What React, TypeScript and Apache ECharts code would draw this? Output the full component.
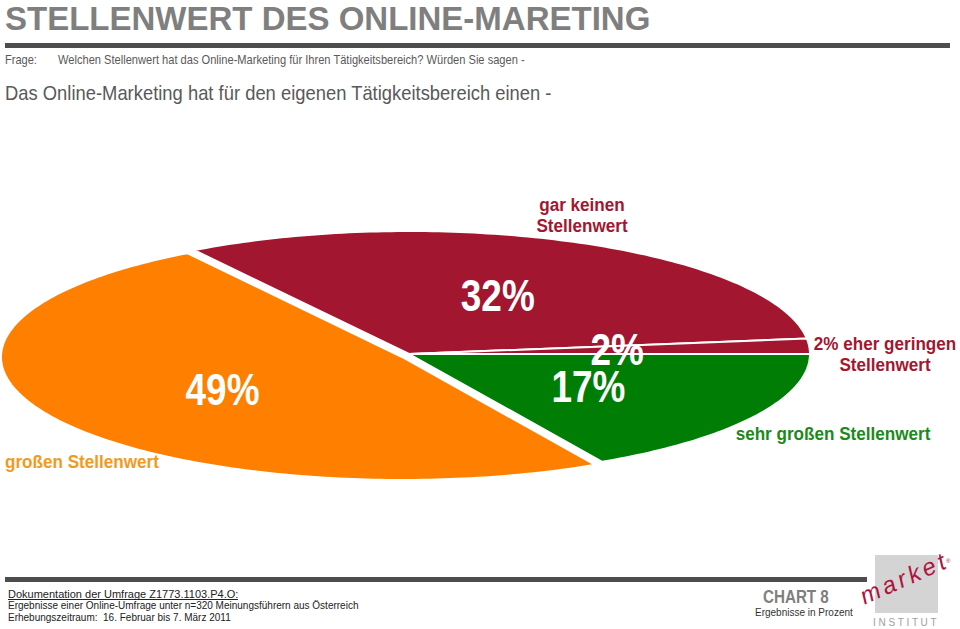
import React, { useEffect, useRef } from "react";
import * as echarts from "echarts";

// ---- data ----
const categories = ["sehr großen Stellenwert", "großen Stellenwert", "gar keinen Stellenwert", "eher geringen Stellenwert"];
const values = [17, 49, 32, 2];
const outsideLabels = ["sehr großen Stellenwert", "großen Stellenwert", "gar keinen\nStellenwert", "2% eher geringen\nStellenwert"];
const sliceColors = ["#007D05", "#FF8000", "#A3162F", "#A3162F"];
const labelColors = ["#1B8A1B", "#F39A1E", "#A3162F", "#A3162F"];
const exploded = [false, true, false, false];

// ---- layout ----
const CX = 409;
const CY = 354;
const RX = 401;
const RY = 123;
const EXPLODE = { dx: -7, dy: 3 };
const LABEL_FRACTION = 0.52;
const outsidePos: { x: number; y: number; align: string }[] = [
  { x: 833, y: 434, align: "center" },
  { x: 5, y: 462, align: "left" },
  { x: 582, y: 215, align: "center" },
  { x: 885, y: 354, align: "center" },
];

const SANS = "'Liberation Sans', Arial, sans-serif";

const total = values.reduce((a, b) => a + b, 0);
const starts: number[] = [];
{
  let acc = 0;
  values.forEach((v) => {
    starts.push((acc / total) * 360);
    acc += v;
  });
}

function ellPoint(deg: number, f = 1) {
  const r = (deg * Math.PI) / 180;
  return [CX + RX * f * Math.cos(r), CY + RY * f * Math.sin(r)];
}

function txt(x: number, y: number, text: string, style: any, sx = 1): any {
  return {
    type: "text",
    x,
    y,
    scaleX: sx,
    style: { text, x: 0, y: 0, fontFamily: SANS, align: "left", verticalAlign: "top", ...style },
  };
}

const logoLetters = ["m", "a", "r", "k", "e", "t"];
const logoWidths = [0.833, 0.556, 0.333, 0.5, 0.556, 0.278];

export default function App() {
  const ref = useRef<HTMLDivElement>(null);
  useEffect(() => {
    if (!ref.current) return;
    const chart = echarts.init(ref.current, undefined, { renderer: "svg" });

    const logoChildren: any[] = [];
    {
      let lx = 0;
      logoLetters.forEach((ch, i) => {
        logoChildren.push({
          type: "text",
          x: lx,
          y: 0,
          style: { text: ch, fill: "#B0123F", fontSize: 24, fontStyle: "italic", fontFamily: SANS, verticalAlign: "bottom" },
        });
        lx += logoWidths[i] * 24 + 3.5;
      });
    }

    const option: any = {
      animation: false,
      backgroundColor: "#ffffff",
      series: [
        {
          type: "custom",
          coordinateSystem: "none",
          data: values.map((v, i) => ({ name: categories[i], value: v })),
          renderItem: (params: any) => {
            const i = params.dataIndex;
            const a0 = starts[i];
            const a1 = a0 + (values[i] / total) * 360;
            const pts: number[][] = [[CX, CY]];
            const steps = Math.max(2, Math.ceil(a1 - a0));
            for (let s = 0; s <= steps; s++) {
              pts.push(ellPoint(a0 + ((a1 - a0) * s) / steps));
            }
            const mid = ellPoint((a0 + a1) / 2, LABEL_FRACTION);
            const off = exploded[i] ? EXPLODE : { dx: 0, dy: 0 };
            const pct = Math.round((values[i] / total) * 100) + "%";
            return {
              type: "group",
              children: [
                {
                  type: "polygon",
                  x: off.dx,
                  y: off.dy,
                  shape: { points: pts },
                  style: { fill: sliceColors[i], stroke: "#ffffff", lineWidth: 2 },
                  z2: 1,
                },
                {
                  type: "text",
                  x: mid[0] + off.dx,
                  y: mid[1] + off.dy,
                  scaleX: 0.84,
                  z2: 10 + i,
                  style: {
                    text: pct,
                    x: 0,
                    y: 0,
                    fill: "#ffffff",
                    fontSize: 44,
                    fontWeight: "bold",
                    fontFamily: SANS,
                    align: "center",
                    verticalAlign: "middle",
                  },
                },
                {
                  type: "text",
                  x: outsidePos[i].x,
                  y: outsidePos[i].y,
                  scaleX: 0.9,
                  z2: 20,
                  style: {
                    text: outsideLabels[i],
                    x: 0,
                    y: 0,
                    fill: labelColors[i],
                    fontSize: 19,
                    lineHeight: 21,
                    fontWeight: "bold",
                    fontFamily: SANS,
                    align: outsidePos[i].align,
                    verticalAlign: "middle",
                  },
                },
              ],
            };
          },
        },
      ],
      graphic: [
        txt(5, 2, "STELLENWERT DES ONLINE-MARETING", { fill: "#7F7F7F", fontSize: 33, fontWeight: "bold" }, 1.0),
        { type: "rect", shape: { x: 5, y: 43, width: 945, height: 5 }, style: { fill: "#4D4D4D" } },
        txt(5, 53, "Frage:", { fill: "#595959", fontSize: 13 }, 0.85),
        txt(
          58,
          53,
          "Welchen Stellenwert hat das Online-Marketing für Ihren Tätigkeitsbereich? Würden Sie sagen -",
          { fill: "#595959", fontSize: 13 },
          0.855
        ),
        txt(5, 83, "Das Online-Marketing hat für den eigenen Tätigkeitsbereich einen -", { fill: "#595959", fontSize: 20 }, 0.92),
        { type: "rect", shape: { x: 5, y: 577, width: 862, height: 5 }, style: { fill: "#4D4D4D" } },
        txt(8, 588, "Dokumentation der Umfrage Z1773.1103.P4.O:", { fill: "#222222", fontSize: 11 }),
        { type: "line", shape: { x1: 8, y1: 599.5, x2: 238, y2: 599.5 }, style: { stroke: "#222222", lineWidth: 1 } },
        txt(8, 600, "Ergebnisse einer Online-Umfrage unter n=320 Meinungsführern aus Österreich", { fill: "#222222", fontSize: 10 }),
        txt(8, 612, "Erhebungszeitraum:  16. Februar bis 7. März 2011", { fill: "#222222", fontSize: 10 }),
        txt(763, 587, "CHART 8", { fill: "#7F7F7F", fontSize: 19, fontWeight: "bold" }, 0.8),
        txt(755, 607, "Ergebnisse in Prozent", { fill: "#333333", fontSize: 10 }),
        { type: "rect", shape: { x: 875, y: 555, width: 63, height: 58 }, style: { fill: "#D4D4D4" } },
        {
          type: "group",
          x: 866,
          y: 608,
          rotation: 0.42,
          children: logoChildren,
        },
        txt(946, 558, "®", { fill: "#B0123F", fontSize: 6 }),
        txt(873, 617, "I N S T I T U T", { fill: "#A0A0A0", fontSize: 10 }),
      ],
    };
    chart.setOption(option);
    return () => chart.dispose();
  }, []);
  return <div ref={ref} style={{ position: "absolute", left: 0, top: 0, width: 960, height: 629 }} />;
}
